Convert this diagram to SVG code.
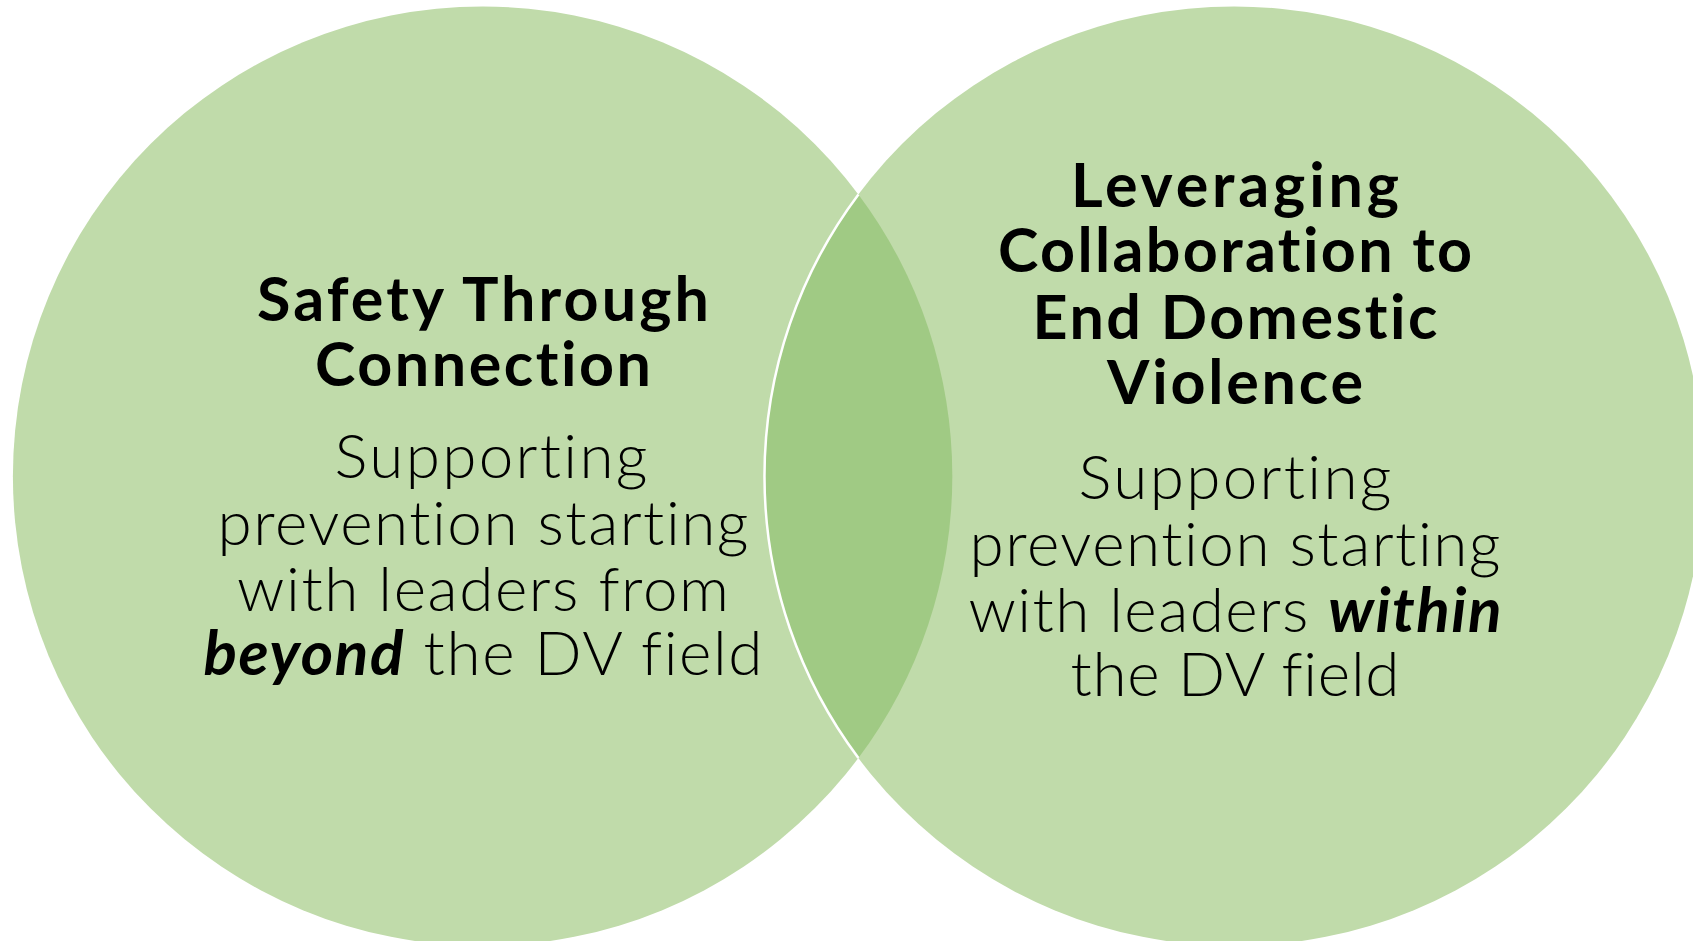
<svg xmlns="http://www.w3.org/2000/svg" width="1693" height="941" viewBox="0 0 1693 941">
  <style>
    .circle { fill: #C0DBAA; }
    .lens { fill: #A0CA84; }
    .edge { fill: none; stroke: #FFFFFF; stroke-width: 2.5; }
    text { font-variant-ligatures: none; font-feature-settings: "liga" 0, "clig" 0; }
    .title { font-family: "Lato", "Open Sans", "Liberation Sans", sans-serif; font-weight: 700; font-size: 61px; fill: #000000; text-anchor: middle; }
    .body { font-family: "Lato", "Open Sans", "Liberation Sans", sans-serif; font-weight: 300; font-size: 62px; fill: #000000; text-anchor: middle; }
    .em { font-weight: 700; font-style: italic; }
  </style>
  <rect x="0" y="0" width="1693" height="941" fill="#FFFFFF"/>
  <g id="circle-left">
    <circle class="circle" cx="482.6" cy="476.2" r="469.7"/>
  </g>
  <g id="circle-right">
    <circle class="circle" cx="1234.1" cy="476.2" r="469.7"/>
  </g>
  <g id="overlap">
    <path class="lens" d="M 858.4 194.4 A 469.7 469.7 0 0 1 858.4 758 A 469.7 469.7 0 0 1 858.4 194.4 Z"/>
    <path class="edge" d="M 858.4 194.4 A 469.7 469.7 0 0 0 858.4 758"/>
  </g>
  <g id="connectors"></g>
  <g id="label-left">
    <text class="title" x="483" y="321" textLength="452" lengthAdjust="spacing">Safety Through</text>
    <text class="title" x="483" y="386" textLength="336" lengthAdjust="spacing">Connection</text>
    <text class="body" x="491" y="478" textLength="313" lengthAdjust="spacing">Supporting</text>
    <text class="body" x="483" y="545" textLength="531" lengthAdjust="spacing">prevention starting</text>
    <text class="body" x="483" y="611" textLength="492" lengthAdjust="spacing">with leaders from</text>
    <text class="body" x="483" y="675" textLength="559" lengthAdjust="spacing"><tspan class="em">beyond</tspan> the DV field</text>
  </g>
  <g id="label-right">
    <text class="title" x="1235" y="207" textLength="328" lengthAdjust="spacing">Leveraging</text>
    <text class="title" x="1235" y="272" textLength="474" lengthAdjust="spacing">Collaboration to</text>
    <text class="title" x="1235" y="339" textLength="405" lengthAdjust="spacing">End Domestic</text>
    <text class="title" x="1235" y="404" textLength="256" lengthAdjust="spacing">Violence</text>
    <text class="body" x="1235" y="499" textLength="313" lengthAdjust="spacing">Supporting</text>
    <text class="body" x="1235" y="566" textLength="531" lengthAdjust="spacing">prevention starting</text>
    <text class="body" x="1235" y="632" textLength="533" lengthAdjust="spacing">with leaders <tspan class="em">within</tspan></text>
    <text class="body" x="1235" y="696" textLength="329" lengthAdjust="spacing">the DV field</text>
  </g>
</svg>
